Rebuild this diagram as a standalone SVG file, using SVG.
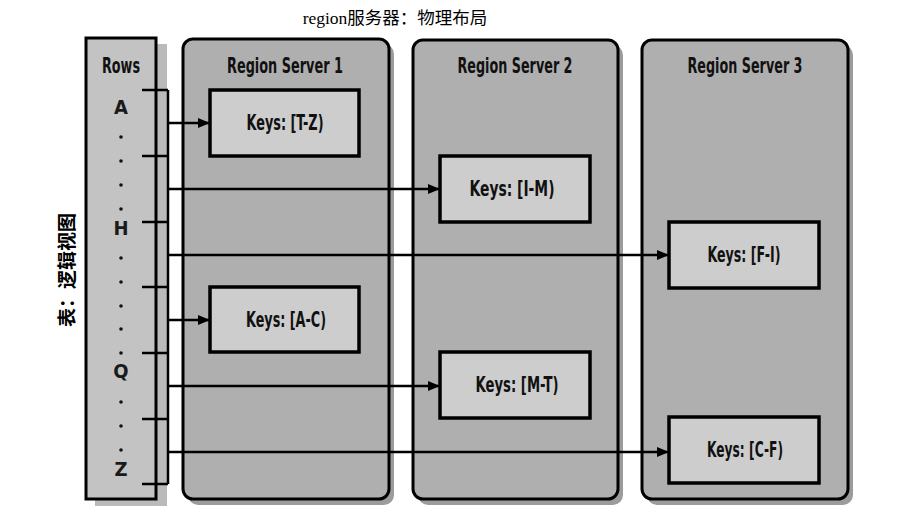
<svg xmlns="http://www.w3.org/2000/svg" width="923" height="520" viewBox="0 0 923 520">
  <defs>
    <marker id="arrow" viewBox="0 0 12 10" refX="12" refY="5" markerWidth="12" markerHeight="10" markerUnits="userSpaceOnUse" orient="auto">
      <path d="M0,0 L12,5 L0,10 Z" fill="#000"/>
    </marker>
    <style>
      .shadow { fill: #9c9c9c; }
      .rows { fill: #c3c3c3; stroke: #000; stroke-width: 3; }
      .server { fill: #afafaf; stroke: #000; stroke-width: 3; }
      .key { fill: #cdcdcd; stroke: #000; stroke-width: 3.5; }
      .lbl { font-family: "Liberation Sans Narrow", "DejaVu Sans Condensed", "Liberation Sans", sans-serif; font-weight: bold; font-size: 21px; fill: #111; text-anchor: middle; }
      .let { font-family: "Liberation Sans Narrow", "DejaVu Sans Condensed", "Liberation Sans", sans-serif; font-weight: bold; font-size: 20px; fill: #1a1a1a; text-anchor: middle; }
      .dot { fill: #111; }
      .conn { stroke: #000; stroke-width: 2.5; fill: none; }
      .title { font-family: "Liberation Serif", "Noto Sans CJK SC", serif; font-size: 17.5px; fill: #000; text-anchor: middle; }
      .vtitle { font-family: "Noto Sans CJK SC", sans-serif; font-size: 19px; font-weight: bold; fill: #000; text-anchor: middle; }
    </style>
  </defs>
  <rect width="923" height="520" fill="#fff"/>

  <text class="title" x="395" y="24">region服务器：物理布局</text>
  <text class="vtitle" transform="translate(74,270) rotate(-90)">表：逻辑视图</text>

  <g id="rows">
    <rect class="shadow" x="95" y="44" width="72" height="462" fill-opacity="0.7"/>
    <rect class="rows" x="86" y="38" width="70" height="461"/>
    <text class="lbl" x="121" y="73" textLength="38" lengthAdjust="spacingAndGlyphs">Rows</text>
    <text class="let" x="121" y="114">A</text>
    <text class="let" x="121" y="235">H</text>
    <text class="let" x="121" y="378">Q</text>
    <text class="let" x="121" y="476">Z</text>
    <g class="dot">
      <circle cx="121" cy="137" r="1.8"/>
      <circle cx="121" cy="161" r="1.8"/>
      <circle cx="121" cy="185" r="1.8"/>
      <circle cx="121" cy="209" r="1.8"/>
      <circle cx="121" cy="258" r="1.8"/>
      <circle cx="121" cy="282" r="1.8"/>
      <circle cx="121" cy="306" r="1.8"/>
      <circle cx="121" cy="329" r="1.8"/>
      <circle cx="121" cy="353" r="1.8"/>
      <circle cx="121" cy="402" r="1.8"/>
      <circle cx="121" cy="426" r="1.8"/>
      <circle cx="121" cy="450" r="1.8"/>
    </g>
  </g>

  <g id="server1">
    <rect class="shadow" x="188" y="44" width="206" height="461" rx="10"/>
    <rect class="server" x="183" y="39" width="206" height="460" rx="10"/>
    <text class="lbl" x="285" y="73" textLength="116" lengthAdjust="spacingAndGlyphs">Region Server 1</text>
  </g>
  <g id="server2">
    <rect class="shadow" x="418" y="45" width="205" height="460" rx="10"/>
    <rect class="server" x="413" y="40" width="205" height="459" rx="10"/>
    <text class="lbl" x="515" y="73" textLength="115" lengthAdjust="spacingAndGlyphs">Region Server 2</text>
  </g>
  <g id="server3">
    <rect class="shadow" x="647" y="45" width="206" height="460" rx="10"/>
    <rect class="server" x="642" y="40" width="206" height="459" rx="10"/>
    <text class="lbl" x="745" y="73" textLength="115" lengthAdjust="spacingAndGlyphs">Region Server 3</text>
  </g>

  <g id="connectors">
    <path class="conn" d="M142,90 H168 M142,156 H168 M142,222 H168 M142,287 H168 M142,353 H168 M142,419 H168 M142,484 H168 M168,90 V484"/>
    <line class="conn" x1="168" y1="123" x2="210" y2="123" marker-end="url(#arrow)"/>
    <line class="conn" x1="168" y1="189" x2="440" y2="189" marker-end="url(#arrow)"/>
    <line class="conn" x1="168" y1="255" x2="669" y2="255" marker-end="url(#arrow)"/>
    <line class="conn" x1="168" y1="320" x2="210" y2="320" marker-end="url(#arrow)"/>
    <line class="conn" x1="168" y1="386" x2="440" y2="386" marker-end="url(#arrow)"/>
    <line class="conn" x1="168" y1="452" x2="669" y2="452" marker-end="url(#arrow)"/>
  </g>

  <g id="key-tz">
    <rect class="key" x="210" y="90" width="149" height="66"/>
    <text class="lbl" x="285" y="130" textLength="77" lengthAdjust="spacingAndGlyphs">Keys: [T-Z)</text>
  </g>
  <g id="key-ac">
    <rect class="key" x="210" y="287" width="149" height="65"/>
    <text class="lbl" x="286" y="327" textLength="80" lengthAdjust="spacingAndGlyphs">Keys: [A-C)</text>
  </g>
  <g id="key-im">
    <rect class="key" x="440" y="156" width="150" height="66"/>
    <text class="lbl" x="512" y="196" textLength="85" lengthAdjust="spacingAndGlyphs">Keys: [I-M)</text>
  </g>
  <g id="key-mt">
    <rect class="key" x="440" y="352" width="150" height="66"/>
    <text class="lbl" x="517" y="392" textLength="83" lengthAdjust="spacingAndGlyphs">Keys: [M-T)</text>
  </g>
  <g id="key-fi">
    <rect class="key" x="669" y="222" width="150" height="66"/>
    <text class="lbl" x="744" y="262" textLength="73" lengthAdjust="spacingAndGlyphs">Keys: [F-I)</text>
  </g>
  <g id="key-cf">
    <rect class="key" x="669" y="417" width="150" height="66"/>
    <text class="lbl" x="745" y="457" textLength="76" lengthAdjust="spacingAndGlyphs">Keys: [C-F)</text>
  </g>
</svg>
